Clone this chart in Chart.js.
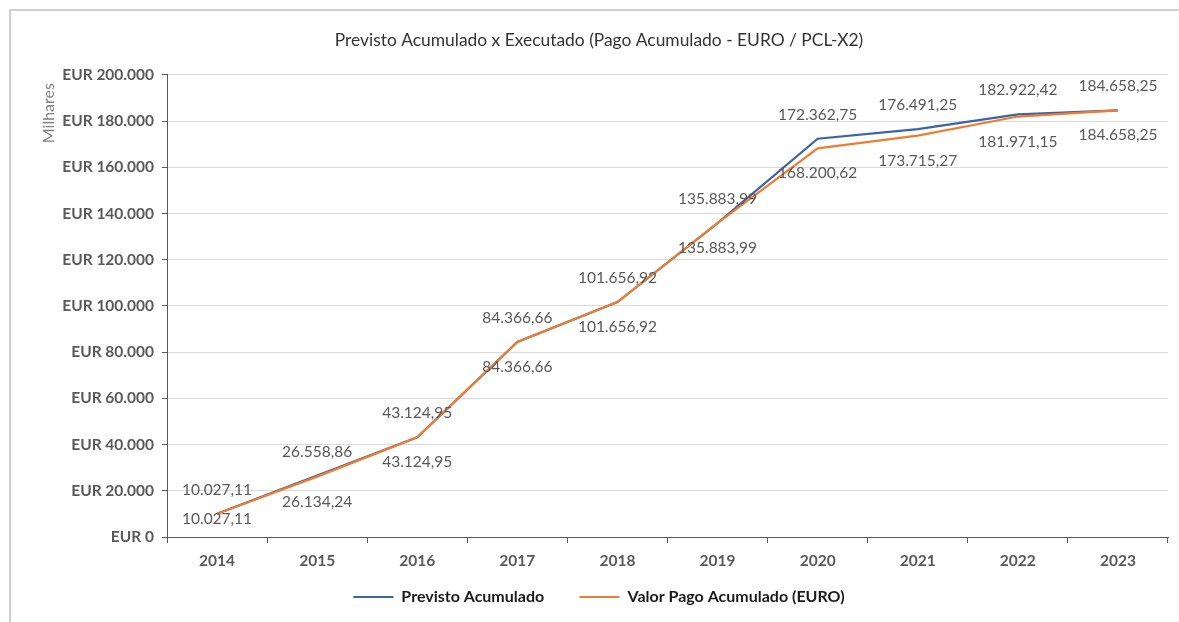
<!DOCTYPE html>
<html lang="pt">
<head>
    <meta charset="UTF-8">
    <title>Previsto Acumulado x Executado</title>
    <script src="https://cdn.jsdelivr.net/npm/chart.js"></script>
    <style>
        body {
            margin: 0;
            background-color: #ffffff;
        }
        #chart {
            display: block;
        }
    </style>
</head>
<body>
    <canvas id="chart" width="1179" height="622"></canvas>
    <script>
        const years = ['2014', '2015', '2016', '2017', '2018', '2019', '2020', '2021', '2022', '2023'];
        const previsto = [10027.11, 26558.86, 43124.95, 84366.66, 101656.92, 135883.99, 172362.75, 176491.25, 182922.42, 184658.25];
        const pago = [10027.11, 26134.24, 43124.95, 84366.66, 101656.92, 135883.99, 168200.62, 173715.27, 181971.15, 184658.25];
        const yMax = 200000;
        const yStep = 20000;

        function groupDots(intPart) {
            return intPart.replace(/\B(?=(\d{3})+(?!\d))/g, '.');
        }

        function formatValue(v) {
            const parts = v.toFixed(2).split('.');
            return groupDots(parts[0]) + ',' + parts[1];
        }

        const FONT = 'Lato, "Open Sans", sans-serif';
        const labelColor = '#595959';

        // frame: only the left and top edges show in the picture
        const framePlugin = {
            id: 'frame',
            beforeDraw(chart) {
                const ctx = chart.ctx;
                ctx.save();
                ctx.strokeStyle = '#d0d0d0';
                ctx.lineWidth = 2;
                ctx.beginPath();
                ctx.moveTo(10, chart.height);
                ctx.lineTo(10, 10);
                ctx.lineTo(chart.width, 10);
                ctx.stroke();
                ctx.restore();
            }
        };

        // value labels: first series above its point, second below
        const valueLabels = {
            id: 'valueLabels',
            afterDatasetsDraw(chart) {
                const ctx = chart.ctx;
                const area = chart.chartArea;
                ctx.save();
                ctx.font = '15.5px ' + FONT;
                ctx.fillStyle = labelColor;
                ctx.textAlign = 'center';
                ctx.textBaseline = 'middle';
                chart.data.datasets.forEach((ds, i) => {
                    const meta = chart.getDatasetMeta(i);
                    meta.data.forEach((pt, j) => {
                        let y;
                        if (ds.labelSide === 'above') {
                            y = pt.y - 24;
                        } else {
                            y = Math.min(pt.y + 25, area.bottom - 18);
                        }
                        ctx.fillText(formatValue(ds.data[j]), pt.x, y);
                    });
                });
                ctx.restore();
            }
        };

        const ctx = document.getElementById('chart').getContext('2d');
        new Chart(ctx, {
            type: 'line',
            data: {
                labels: years,
                datasets: [
                    {
                        label: 'Previsto Acumulado',
                        data: previsto,
                        borderColor: '#3a63a9',
                        backgroundColor: '#3a63a9',
                        borderWidth: 2.2,
                        pointRadius: 0,
                        tension: 0,
                        order: 1,
                        labelSide: 'above'
                    },
                    {
                        label: 'Valor Pago Acumulado (EURO)',
                        data: pago,
                        borderColor: '#ed7d31',
                        backgroundColor: '#ed7d31',
                        borderWidth: 2.2,
                        pointRadius: 0,
                        tension: 0,
                        order: 0,
                        labelSide: 'below'
                    }
                ]
            },
            options: {
                responsive: false,
                animation: false,
                layout: {
                    padding: { left: 30, top: 10, right: 11, bottom: 7 }
                },
                plugins: {
                    title: {
                        display: true,
                        text: 'Previsto Acumulado x Executado (Pago Acumulado - EURO / PCL-X2)',
                        color: '#333333',
                        font: { family: FONT, size: 17.4, weight: 'normal' },
                        padding: { top: 20, bottom: 24 }
                    },
                    legend: {
                        position: 'bottom',
                        labels: {
                            color: '#1a1a1a',
                            font: { family: FONT, size: 16, weight: 'bold' },
                            usePointStyle: true,
                            pointStyle: 'line',
                            pointStyleWidth: 40,
                            boxHeight: 16,
                            padding: 12,
                            sort: (a, b) => a.datasetIndex - b.datasetIndex,
                            generateLabels(chart) {
                                const items = Chart.defaults.plugins.legend.labels.generateLabels(chart);
                                // widen the gap after the first entry
                                items.forEach((it) => {
                                    if (it.datasetIndex === 0) {
                                        it.text = it.text + '\u00a0\u00a0\u00a0\u00a0\u00a0\u00a0';
                                    }
                                });
                                return items;
                            }
                        }
                    },
                    tooltip: { enabled: false }
                },
                scales: {
                    x: {
                        offset: true,
                        grid: {
                            offset: true,
                            drawOnChartArea: false,
                            drawTicks: true,
                            tickLength: 6,
                            tickColor: '#595959'
                        },
                        border: { display: true, color: '#595959', width: 1 },
                        ticks: {
                            color: labelColor,
                            font: { family: FONT, size: 15.5, weight: 'bold' },
                            padding: 9
                        },
                        afterFit(scale) {
                            scale.height = 40;
                        }
                    },
                    y: {
                        min: 0,
                        max: yMax,
                        ticks: {
                            stepSize: yStep,
                            color: labelColor,
                            font: { family: FONT, size: 15.5, weight: 'bold' },
                            padding: 8,
                            callback: (v) => 'EUR ' + groupDots(String(v))
                        },
                        grid: {
                            color: '#d9d9d9',
                            tickColor: '#595959',
                            tickLength: 5
                        },
                        border: { display: true, color: '#595959', width: 1 },
                        title: {
                            display: true,
                            text: 'Milhares  ',
                            align: 'end',
                            color: '#808080',
                            font: { family: FONT, size: 16, weight: 'normal' },
                            padding: { top: 9, bottom: 0 }
                        },
                        afterFit(scale) {
                            scale.width = 137;
                        }
                    }
                }
            },
            plugins: [framePlugin, valueLabels]
        });
    </script>
</body>
</html>
